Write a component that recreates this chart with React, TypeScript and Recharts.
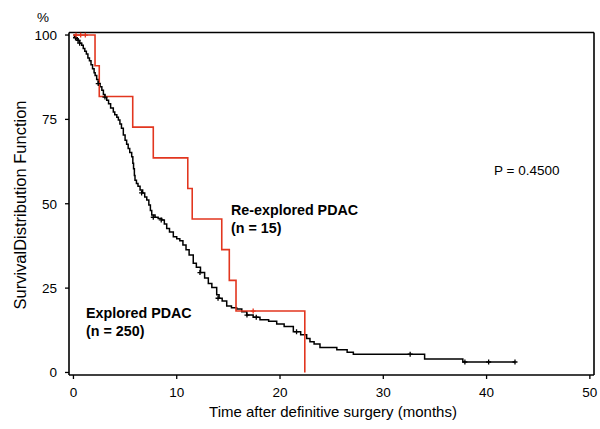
import React from 'react';
import { ComposedChart, Line, Scatter, XAxis, YAxis, ReferenceLine } from 'recharts';

// Explored PDAC (n = 250) Kaplan-Meier steps: time (months), survival (%)
const EXPLORED_TIME = [0, 0.1, 0.2, 0.3, 0.45, 0.6, 0.8, 0.95, 1.1, 1.25, 1.4, 1.55, 1.7, 1.85, 2.0, 2.1, 2.25, 2.4, 2.58, 2.75, 2.9, 3.05, 3.22, 3.4, 3.6, 3.86, 4.0, 4.2, 4.35, 4.5, 4.65, 4.83, 5.0, 5.15, 5.3, 5.45, 5.64, 5.75, 5.82, 5.9, 5.96, 6.1, 6.25, 6.45, 6.7, 6.9, 7.1, 7.3, 7.45, 7.58, 7.9, 8.2, 8.55, 8.8, 9.03, 9.3, 9.67, 10.0, 10.3, 10.6, 10.9, 11.2, 11.6, 11.9, 12.3, 12.7, 13.06, 13.4, 13.87, 14.1, 14.4, 14.84, 15.3, 15.8, 16.3, 16.78, 17.4, 18.06, 18.9, 19.68, 20.4, 21.29, 22.0, 22.58, 22.9, 23.3, 23.87, 25.5, 26.5, 27.1, 34.0, 37.7, 42.75];
const EXPLORED_SURV = [100, 99.6, 99.2, 98.8, 98.4, 97.6, 97.0, 96.0, 95.2, 94.4, 93.2, 92.4, 91.2, 90.0, 88.8, 88.0, 86.8, 85.6, 84.7, 83.6, 82.4, 81.6, 80.7, 79.6, 78.4, 77.2, 76.4, 75.6, 74.8, 73.6, 72.4, 70.4, 68.8, 67.6, 66.4, 65.2, 63.9, 62.0, 60.4, 58.4, 57.0, 56.0, 55.2, 54.1, 53.2, 52.0, 51.1, 49.6, 48.0, 46.7, 46.0, 45.6, 45.2, 44.0, 42.7, 41.6, 40.2, 39.6, 39.0, 37.8, 36.4, 34.8, 32.4, 31.2, 29.6, 28.0, 26.4, 25.2, 23.0, 22.0, 21.2, 19.7, 19.2, 18.8, 18.0, 17.0, 16.4, 15.6, 15.2, 14.4, 13.6, 12.1, 11.2, 10.1, 9.1, 8.4, 7.4, 6.7, 6.0, 5.4, 4.0, 3.1, 3.1];
const EXPLORED_CENSOR_TIME = [0.2, 0.45, 0.6, 2.4, 3.05, 6.6, 7.73, 8.5, 12.25, 14.0, 16.8, 17.7, 21.6, 32.6, 37.9, 40.2, 42.75];
const EXPLORED_CENSOR_SURV = [99.2, 98.4, 97.6, 85.6, 81.6, 53.2, 46.0, 45.2, 29.6, 22.0, 17.0, 16.4, 12.1, 5.4, 3.1, 3.1, 3.1];

// Re-explored PDAC (n = 15)
const REEXPLORED_TIME = [0, 2.09, 2.5, 5.74, 7.73, 11.07, 11.5, 14.36, 15.09, 15.74, 22.4];
const REEXPLORED_SURV = [100, 90.9, 81.8, 72.7, 63.6, 54.5, 45.5, 36.4, 27.3, 18.2, 0];
const REEXPLORED_CENSOR_TIME = [0.25, 0.7, 1.15, 17.4];
const REEXPLORED_CENSOR_SURV = [100, 100, 100, 18.2];

const X_TICKS = [0, 10, 20, 30, 40, 50];
const Y_TICKS = [0, 25, 50, 75, 100];
const X_DOMAIN: [number, number] = [-0.43, 50.4];
const Y_DOMAIN: [number, number] = [-0.75, 100.75];

const RED = '#e2361f';
const FONT = '"Liberation Sans", Arial, Helvetica, sans-serif';

const zip = (t: number[], s: number[]) => t.map((v, i) => ({ t: v, s: s[i] }));
const exploredData = zip(EXPLORED_TIME, EXPLORED_SURV);
const exploredCensor = zip(EXPLORED_CENSOR_TIME, EXPLORED_CENSOR_SURV);
const reexploredData = zip(REEXPLORED_TIME, REEXPLORED_SURV);
const reexploredCensor = zip(REEXPLORED_CENSOR_TIME, REEXPLORED_CENSOR_SURV);

const cross = (color: string) => (props: any) => {
  const { cx, cy } = props;
  if (cx == null || cy == null) return <g />;
  return (
    <path
      d={`M${cx - 2.5},${cy}h5M${cx},${cy - 2.5}v5`}
      stroke={color}
      strokeWidth={1.3}
      fill="none"
    />
  );
};

const txt = (extra: React.CSSProperties): React.CSSProperties => ({
  position: 'absolute',
  fontFamily: FONT,
  color: '#000',
  whiteSpace: 'nowrap',
  lineHeight: 1,
  ...extra,
});

export default function App() {
  return (
    <div style={{ width: 600, height: 429, padding: 8, boxSizing: 'border-box', overflow: 'hidden', background: '#fff' }}>
      <style>{'body{margin:0}'}</style>
      <div style={{ position: 'relative', width: 592, height: 413 }}>
        <ComposedChart
          width={592}
          height={413}
          margin={{ top: 24.5, right: 6, bottom: 16, left: 21 }}
          style={{ overflow: 'visible' }}
        >
          <XAxis
            type="number"
            dataKey="t"
            domain={X_DOMAIN}
            ticks={X_TICKS}
            allowDataOverflow
            axisLine={false}
            tickLine={{ stroke: '#000', strokeWidth: 1.3 }}
            tickSize={4}
            tickMargin={8}
            height={30}
            tick={{ fill: '#000', fontSize: 13.5, fontFamily: FONT }}
          />
          <YAxis
            type="number"
            dataKey="s"
            domain={Y_DOMAIN}
            ticks={Y_TICKS}
            allowDataOverflow
            axisLine={{ stroke: '#000', strokeWidth: 1.6 }}
            tickLine={{ stroke: '#000', strokeWidth: 1.3 }}
            tickSize={4}
            tickMargin={8}
            width={40}
            tick={{ fill: '#000', fontSize: 13.5, fontFamily: FONT }}
          />
          <ReferenceLine y={Y_DOMAIN[1]} stroke="#000" strokeWidth={1.6} ifOverflow="visible" />
          <ReferenceLine y={Y_DOMAIN[0]} stroke="#000" strokeWidth={1.6} ifOverflow="visible" />
          <ReferenceLine x={X_DOMAIN[1]} stroke="#000" strokeWidth={1.6} ifOverflow="visible" />
          <Line
            data={exploredData}
            dataKey="s"
            type="stepAfter"
            stroke="#000"
            strokeWidth={1.5}
            dot={false}
            isAnimationActive={false}
          />
          <Scatter data={exploredCensor} dataKey="s" shape={cross('#000')} isAnimationActive={false} />
          <Line
            data={reexploredData}
            dataKey="s"
            type="stepAfter"
            stroke={RED}
            strokeWidth={1.6}
            dot={false}
            isAnimationActive={false}
          />
          <Scatter data={reexploredCensor} dataKey="s" shape={cross(RED)} isAnimationActive={false} />
        </ComposedChart>

        <div style={txt({ left: 29, top: 3, fontSize: 13.5 })}>%</div>
        <div
          style={txt({
            left: 12,
            top: 197,
            fontSize: 16.5,
            transform: 'translate(-50%, -50%) rotate(-90deg)',
          })}
        >
          SurvivalDistribution Function
        </div>
        <div style={txt({ left: 325, top: 403, fontSize: 15, transform: 'translate(-50%, -50%)' })}>
          Time after definitive surgery (months)
        </div>
        <div style={txt({ left: 223, top: 195, fontSize: 14.3, fontWeight: 'bold' })}>Re-explored PDAC</div>
        <div style={txt({ left: 223, top: 213, fontSize: 14.3, fontWeight: 'bold' })}>(n = 15)</div>
        <div style={txt({ left: 78, top: 298, fontSize: 14.3, fontWeight: 'bold' })}>Explored PDAC</div>
        <div style={txt({ left: 78, top: 316, fontSize: 14.3, fontWeight: 'bold' })}>(n = 250)</div>
        <div style={txt({ left: 486, top: 156, fontSize: 13.5 })}>P = 0.4500</div>
      </div>
    </div>
  );
}
